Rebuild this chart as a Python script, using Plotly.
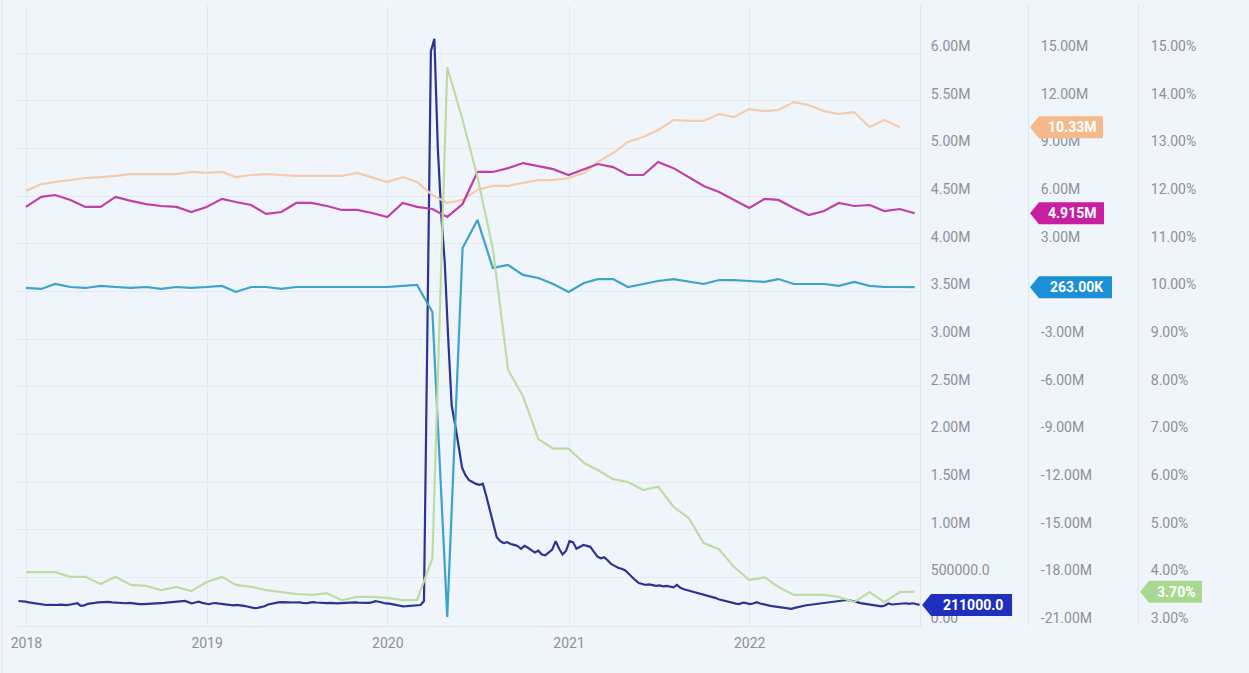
import pandas as pd
import plotly.graph_objects as go

# ---------------- data ----------------
# Monthly observations, stamped at month end (Dec 2017 .. Nov 2022)
month_end = pd.date_range("2018-01-01", "2022-12-01", freq="MS") - pd.Timedelta(days=1)

# Job openings, millions (one month shorter: ends Oct 2022)
openings_m = [6.31, 6.75, 6.88, 7.00, 7.13, 7.19, 7.26, 7.38, 7.38, 7.38,
              7.38, 7.51, 7.45, 7.51, 7.19, 7.32, 7.38, 7.32, 7.26, 7.26,
              7.26, 7.26, 7.45, 7.19, 6.88, 7.19, 6.88, 6.06, 5.56, 5.75,
              6.38, 6.63, 6.63, 6.82, 7.00, 7.00, 7.13, 7.45, 8.14, 8.70,
              9.40, 9.71, 10.15, 10.78, 10.72, 10.72, 11.16, 10.97, 11.47, 11.34,
              11.41, 11.91, 11.72, 11.34, 11.16, 11.28, 10.34, 10.78, 10.33]

# Hires, millions
hires_m = [5.31, 5.94, 6.06, 5.75, 5.31, 5.31, 5.94, 5.69, 5.49, 5.37,
           5.31, 4.99, 5.31, 5.82, 5.62, 5.43, 4.87, 4.99, 5.56, 5.56,
           5.37, 5.12, 5.12, 4.93, 4.68, 5.56, 5.31, 5.18, 4.68, 5.49,
           7.51, 7.51, 7.75, 8.07, 7.88, 7.69, 7.32, 7.69, 8.01, 7.82,
           7.32, 7.32, 8.14, 7.75, 7.19, 6.63, 6.25, 5.75, 5.24, 5.82,
           5.75, 5.24, 4.80, 5.05, 5.56, 5.37, 5.43, 5.05, 5.18, 4.915]

# Nonfarm payrolls, monthly change, millions
payrolls_m = [0.21, 0.15, 0.46, 0.27, 0.21, 0.34, 0.27, 0.21, 0.27, 0.15,
              0.27, 0.21, 0.27, 0.34, -0.04, 0.27, 0.27, 0.15, 0.27, 0.27,
              0.27, 0.27, 0.27, 0.27, 0.27, 0.34, 0.40, -1.30, -20.50, 2.73,
              4.49, 1.47, 1.66, 1.03, 0.84, 0.46, -0.04, 0.52, 0.77, 0.77,
              0.27, 0.46, 0.65, 0.77, 0.59, 0.46, 0.71, 0.71, 0.65, 0.59,
              0.77, 0.46, 0.46, 0.46, 0.34, 0.59, 0.34, 0.27, 0.27, 0.263]

# Unemployment rate, percent
unemployment_pct = [4.11, 4.11, 4.11, 4.01, 4.01, 3.86, 4.01, 3.84, 3.82, 3.73,
                    3.80, 3.71, 3.90, 4.01, 3.84, 3.80, 3.73, 3.69, 3.65, 3.63,
                    3.67, 3.52, 3.59, 3.59, 3.57, 3.52, 3.52, 4.40, 14.70, 13.60,
                    12.40, 10.90, 8.35, 7.80, 6.90, 6.70, 6.70, 6.40, 6.25, 6.06,
                    6.00, 5.83, 5.90, 5.48, 5.24, 4.72, 4.59, 4.22, 3.94, 4.00,
                    3.80, 3.63, 3.63, 3.63, 3.59, 3.48, 3.69, 3.48, 3.69, 3.70]

# Weekly initial claims, thousands (weeks ending Saturday, Dec 16 2017 .. Dec 10 2022)
week_end = pd.date_range("2017-12-16", periods=261, freq="7D")
claims_k = [
    252, 250, 245, 238, 231, 225, 218, 214,
    210, 212, 208, 210, 214, 211, 209, 215, 220,
    228, 200, 205, 222, 230, 232,
    238, 240, 236, 242, 238, 235, 232, 230, 228, 232,
    226, 222, 220, 218, 222, 224, 226, 228, 230, 232, 236,
    238, 240, 244, 250, 252, 240, 226, 236, 244, 232,
    222, 218, 228, 230, 224, 218, 214, 210, 206, 210, 208,
    200, 194, 186, 178, 180, 188, 196,
    215, 225, 232, 238, 240, 242, 238, 236, 240, 238,
    232, 228, 234, 240, 236, 232, 228, 230, 232, 228,
    226, 230, 232, 236, 240, 238, 234, 232, 228, 232,
    238, 250, 244, 232, 226, 224,
    218, 210, 200, 196, 198, 200, 202, 206, 210, 252,
    2920, 6020, 6150, 5000, 4300, 3800, 3000, 2300, 2100, 1850,
    1650, 1570, 1520, 1500, 1480, 1470, 1480, 1350, 1200, 1050,
    920, 880, 860, 870, 850, 840, 830, 800, 830, 810,
    780, 760, 780,
    740, 730, 760, 790, 880, 800, 740, 780, 880, 870,
    800, 820, 840, 830, 820, 770, 720, 700, 710, 680,
    640, 620, 600, 590, 575, 540, 500, 470, 440, 430,
    420, 425, 420, 410, 415, 405, 410, 400, 395, 420,
    390, 375, 365, 360, 350, 340, 330, 320, 310, 295,
    285, 270, 260, 250, 240, 235, 225, 220, 235, 230,
    220, 225, 240, 225, 215, 210, 200, 195, 190, 185,
    180, 175, 170, 180, 190, 195, 205, 210, 215, 220,
    225, 230, 235, 240, 245, 248, 255, 260, 262, 255,
    250, 240, 230, 225, 220, 212, 205, 200, 195, 205,
    225, 215, 220, 218, 225, 228, 222, 228, 220, 211,
]
claims = [v * 1000 for v in claims_k]

# Axis ticks
year_ticks = ["2018-01-01", "2019-01-01", "2020-01-01", "2021-01-01", "2022-01-01"]
year_labels = ["2018", "2019", "2020", "2021", "2022"]

claims_tickvals = [i * 500000 for i in range(13)]
claims_ticktext = ["0.00", "500000.0", "1.00M", "1.50M", "2.00M", "2.50M", "3.00M",
                   "3.50M", "4.00M", "4.50M", "5.00M", "5.50M", "6.00M"]

mid_tickvals = [-21, -18, -15, -12, -9, -6, -3, 0, 3, 6, 9, 12, 15]
mid_ticktext = ["-21.00M", "-18.00M", "-15.00M", "-12.00M", "-9.00M", "-6.00M", "-3.00M",
                "0.00M", "3.00M", "6.00M", "9.00M", "12.00M", "15.00M"]

pct_tickvals = [3, 4, 5, 6, 7, 8, 9, 10, 11, 12, 13, 14, 15]
pct_ticktext = ["3.00%", "4.00%", "5.00%", "6.00%", "7.00%", "8.00%", "9.00%",
                "10.00%", "11.00%", "12.00%", "13.00%", "14.00%", "15.00%"]

# ---------------- styling ----------------
BG = "#f0f5fc"
GRID = "#e3eaf4"
AXLINE = "#dfe6ef"
TICK = "#8c9099"
FONT = "Roboto"

C_CLAIMS = "#2c3392"
C_CLAIMS_TAG = "#1f30bf"
C_PAY = "#3ba3cc"
C_PAY_TAG = "#1b8fd8"
C_HIRES = "#c13fa6"
C_HIRES_TAG = "#c81ea0"
C_OPEN = "#f6cbad"
C_OPEN_TAG = "#f5b98c"
C_UR = "#bcdca4"
C_UR_TAG = "#a9d890"

X_END = 0.733      # right edge of the plotting area (paper units)
POS_MID = 0.8206   # middle value axis
POS_PCT = 0.9099   # percent axis

fig = go.Figure()

fig.add_trace(go.Scatter(x=month_end[:len(openings_m)], y=openings_m, yaxis="y2",
                         mode="lines", name="Job Openings",
                         line=dict(color=C_OPEN, width=2.2)))
fig.add_trace(go.Scatter(x=month_end, y=hires_m, yaxis="y2", mode="lines",
                         name="Hires", line=dict(color=C_HIRES, width=2.2)))
fig.add_trace(go.Scatter(x=month_end, y=unemployment_pct, yaxis="y3", mode="lines",
                         name="Unemployment Rate", line=dict(color=C_UR, width=2.2)))
fig.add_trace(go.Scatter(x=month_end, y=payrolls_m, yaxis="y2", mode="lines",
                         name="Nonfarm Payrolls Change", line=dict(color=C_PAY, width=2.2)))
fig.add_trace(go.Scatter(x=week_end, y=claims, yaxis="y", mode="lines",
                         name="Initial Claims", line=dict(color=C_CLAIMS, width=2.2)))

tick_font = dict(family=FONT, size=14, color=TICK)

fig.update_layout(
    width=1249, height=673,
    margin=dict(l=17, r=0, t=5, b=47),
    paper_bgcolor=BG, plot_bgcolor=BG,
    showlegend=False,
    font=dict(family=FONT),
    xaxis=dict(type="date", domain=[0, X_END],
               range=["2017-12-13", "2022-12-11"],
               tickvals=year_ticks, ticktext=year_labels,
               tickfont=tick_font, showgrid=True, gridcolor=GRID, gridwidth=1,
               showline=True, linecolor=AXLINE, ticks="", zeroline=False,
               ticklabelstandoff=4),
    yaxis=dict(side="right", anchor="x", range=[-10500, 6504000],
               tickvals=claims_tickvals, ticktext=claims_ticktext,
               tickfont=tick_font, showgrid=True, gridcolor=GRID, gridwidth=1,
               showline=True, linecolor=AXLINE, zeroline=False, ticks="",
               ticklabelshift=-7, ticklabelstandoff=7),
    yaxis2=dict(side="right", overlaying="y", anchor="free", position=POS_MID,
                range=[-21.063, 18.018],
                tickvals=mid_tickvals, ticktext=mid_ticktext,
                tickfont=tick_font, showgrid=False,
                showline=True, linecolor=AXLINE, zeroline=False, ticks="",
                ticklabelshift=-7, ticklabelstandoff=9),
    yaxis3=dict(side="right", overlaying="y", anchor="free", position=POS_PCT,
                range=[2.979, 16.006],
                tickvals=pct_tickvals, ticktext=pct_ticktext,
                tickfont=tick_font, showgrid=False,
                showline=True, linecolor=AXLINE, zeroline=False, ticks="",
                ticklabelshift=-7, ticklabelstandoff=9),
)

# Value tags at the end of each series, pinned to their own axis
tags = [
    ("y2", POS_MID, openings_m[-1], "10.33M", C_OPEN_TAG, 75),
    ("y2", POS_MID, hires_m[-1], "4.915M", C_HIRES_TAG, 76),
    ("y2", POS_MID, payrolls_m[-1], "263.00K", C_PAY_TAG, 84),
    ("y", X_END, claims[-1], "211000.0", C_CLAIMS_TAG, 92),
    ("y3", POS_PCT, unemployment_pct[-1], "3.70%", C_UR_TAG, 64),
]
shapes = []
annotations = []
for yref, xpos, val, label, color, w in tags:
    h = 11
    shapes.append(dict(
        type="path", xref="paper", yref=yref,
        xsizemode="pixel", ysizemode="pixel", xanchor=xpos, yanchor=val,
        path=f"M 2,0 L 11,{h} L {w},{h} L {w},{-h} L 11,{-h} Z",
        fillcolor=color, line=dict(width=0), layer="above"))
    annotations.append(dict(
        xref="paper", yref=yref, x=xpos, y=val, text=f"<b>{label}</b>",
        showarrow=False, xanchor="center", yanchor="middle",
        xshift=(11 + w) / 2 + 1,
        font=dict(family=FONT, size=14, color="#ffffff")))

# thin card edge on the far left
shapes.append(dict(type="line", xref="paper", yref="paper",
                   x0=-0.0122, x1=-0.0122, y0=-0.08, y1=1.01,
                   line=dict(color="#dde3ea", width=1)))

fig.update_layout(shapes=shapes, annotations=annotations)

fig.write_html("out.html")
